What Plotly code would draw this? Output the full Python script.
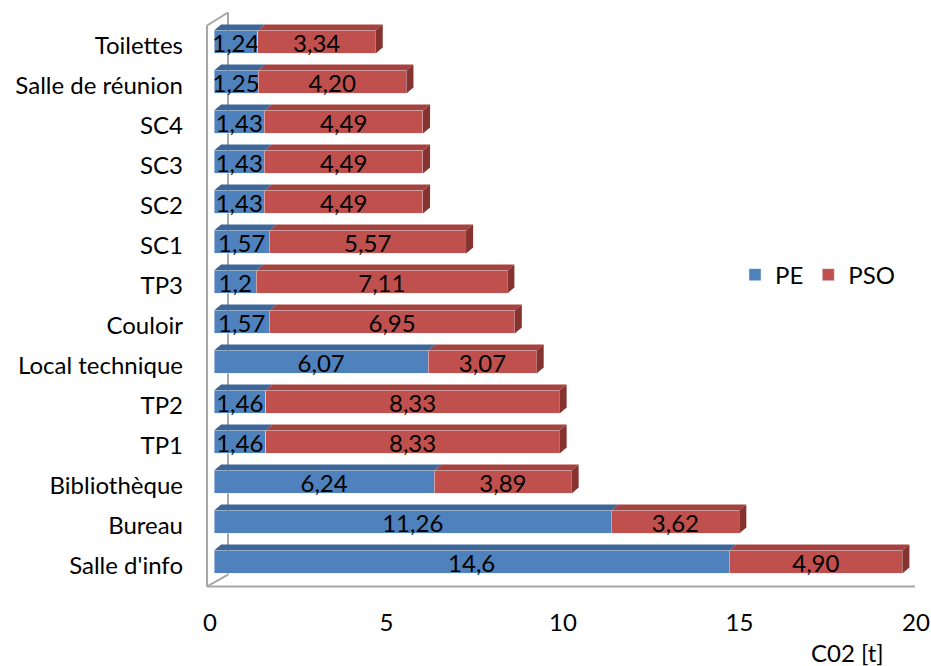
import plotly.graph_objects as go

# Data (bottom to top as in the chart)
rooms = ["Salle d'info", "Bureau", "Bibliothèque", "TP1", "TP2", "Local technique",
         "Couloir", "TP3", "SC1", "SC2", "SC3", "SC4", "Salle de réunion", "Toilettes"]
pe = [14.6, 11.26, 6.24, 1.46, 1.46, 6.07, 1.57, 1.2, 1.57, 1.43, 1.43, 1.43, 1.25, 1.24]
pso = [4.90, 3.62, 3.89, 8.33, 8.33, 3.07, 6.95, 7.11, 5.57, 4.49, 4.49, 4.49, 4.20, 3.34]
pe_text = ["14,6", "11,26", "6,24", "1,46", "1,46", "6,07", "1,57", "1,2", "1,57",
           "1,43", "1,43", "1,43", "1,25", "1,24"]
pso_text = ["4,90", "3,62", "3,89", "8,33", "8,33", "3,07", "6,95", "7,11", "5,57",
            "4,49", "4,49", "4,49", "4,20", "3,34"]

BLUE, BLUE_TOP = '#4F81BD', '#3D6699'
RED, RED_TOP, RED_SIDE = '#C0504D', '#A5413E', '#86322F'
FONT = 'Lato'
FS = 24

# page geometry (body margin is removed in post_script)
FW, FH = 931, 666
L, R, T, B = 214, 11, 17.5, 79.5
pw, ph = FW - L - R, FH - T - B

def px(x):
    return (x - L) / pw

def py(y):
    return (FH - B - y) / ph

idx = list(range(len(rooms)))
bw = 0.57   # bar thickness
dx, dy = 0.2, 0.15  # fake 3D depth

fig = go.Figure()
fig.add_trace(go.Bar(y=idx, x=pe, orientation='h', name='PE', marker_color=BLUE,
                     width=bw, text=pe_text, textposition='inside',
                     insidetextanchor='middle', textfont=dict(color='black', size=FS)))
fig.add_trace(go.Bar(y=idx, x=pso, orientation='h', name='PSO', marker_color=RED,
                     width=bw, text=pso_text, textposition='inside',
                     insidetextanchor='middle', textfont=dict(color='black', size=FS)))

# top and side faces for the 3D look
shapes = []
for i in idx:
    top = i + bw / 2
    for x0, x1, col in [(0, pe[i], BLUE_TOP), (pe[i], pe[i] + pso[i], RED_TOP)]:
        shapes.append(dict(type='path', xref='x', yref='y', line_width=0, fillcolor=col,
                           path=f"M{x0},{top} L{x1},{top} L{x1+dx},{top+dy} L{x0+dx},{top+dy} Z"))
    xe = pe[i] + pso[i]
    shapes.append(dict(type='path', xref='x', yref='y', line_width=0, fillcolor=RED_SIDE,
                       path=f"M{xe},{i-bw/2} L{xe+dx},{i-bw/2+dy} L{xe+dx},{top+dy} L{xe},{top} Z"))

# wall / floor frame
gray = dict(color='#A6A6A6', width=2)
for (xa, ya, xb, yb) in [(207, 25, 207, 587), (207, 587, 915, 587), (207, 25, 228, 12),
                         (228, 12, 228, 575), (207, 587, 228, 575)]:
    shapes.append(dict(type='line', xref='paper', yref='paper', line=gray, layer='below',
                       x0=px(xa), y0=py(ya), x1=px(xb), y1=py(yb)))

fig.update_layout(
    width=FW, height=FH, barmode='stack',
    margin=dict(l=L, r=R, t=T, b=B, autoexpand=False),
    plot_bgcolor='white', paper_bgcolor='white',
    font=dict(family=FONT, size=FS, color='black'),
    uniformtext=dict(mode='show', minsize=FS),
    shapes=shapes,
    showlegend=True,
    legend=dict(orientation='h', traceorder='normal', x=px(735), y=py(275),
                xanchor='left', yanchor='middle', font=dict(size=FS),
                bgcolor='rgba(0,0,0,0)'),
    annotations=[dict(text='C02 [t]', x=px(847), y=py(653), xref='paper', yref='paper',
                      xanchor='center', yanchor='middle', showarrow=False,
                      font=dict(size=FS))],
)
fig.update_xaxes(range=[0, 20], tickvals=[0, 5, 10, 15, 20], showgrid=False, zeroline=False,
                 showline=False, automargin=False, ticklabelstandoff=20, ticklabelshift=-4,
                 ticklabeloverflow='allow')
fig.update_yaxes(range=[-0.6, 13.6], tickvals=idx, ticktext=rooms, showgrid=False,
                 zeroline=False, showline=False, automargin=False,
                 ticklabelstandoff=30, ticklabelshift=4)

fig.write_html("out.html", config={'displayModeBar': False},
               post_script="document.body.style.margin='0';")
